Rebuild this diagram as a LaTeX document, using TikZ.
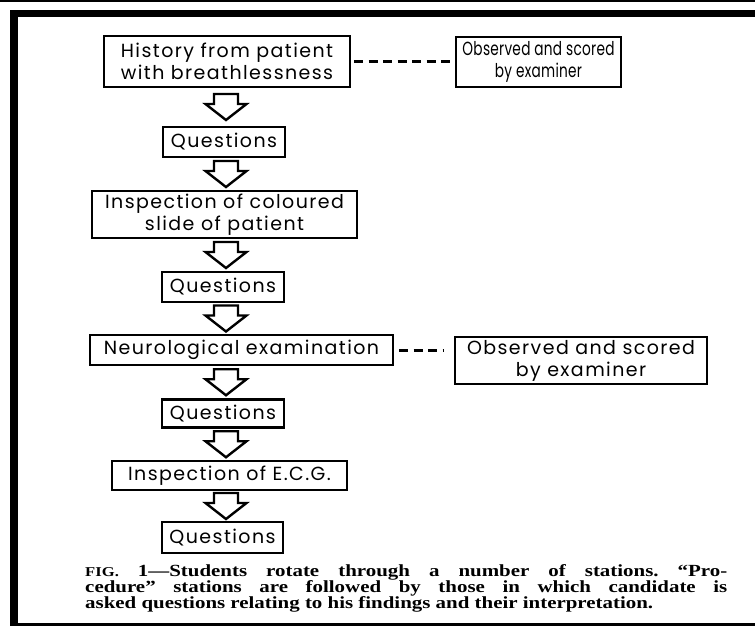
\documentclass[tikz,border=0pt]{standalone}
\usepackage{fontspec}
\usetikzlibrary{calc}
\newfontfamily\BoxFont[LetterSpace=7.5]{Poppins}
\newfontfamily\TightFont[LetterSpace=2]{Poppins}
\newfontfamily\CapFont{Liberation Serif}
\newcommand\DownArrow[2]{%
    \coordinate (ArrMid) at ($(#1.south -| Spine)!0.5!(#2.north -| Spine)$);
    \draw[hollow] ($(ArrMid)+(-12,-13)$) -- ++(24,0) -- ++(0,10) -- ++(8.5,0)
        -- ($(ArrMid)+(0,13)$) -- ($(ArrMid)+(-20.5,-3)$) -- ++(8.5,0) -- cycle;
}

\begin{document}
\begin{tikzpicture}[x=1pt,y=-1pt,
    station/.style={draw,line width=2.4pt,inner sep=0pt,align=center,
        font=\BoxFont\fontsize{19}{22}\selectfont},
    hollow/.style={line width=2.4pt,fill=white,line join=miter},
    scored/.style={line width=3pt,dash pattern=on 9pt off 5.5pt}]
    \useasboundingbox (0,0) rectangle (755,626);
    % frame
    \fill (0,0) rectangle (755,2.5);
    \fill (10,10) rectangle (755,17.5);
    \fill (10,10) rectangle (17.5,626);
    \fill (17,623) rectangle (755,626);
    \coordinate (Spine) at (226,0);
    % stations
    \node[station,minimum width=246,minimum height=51] (History) at (227,61.5) {History from patient\\with breathlessness};
    \node[station,minimum width=122,minimum height=30] (QuestA) at (224,142) {Questions};
    \node[station,minimum width=265,minimum height=47] (Slide) at (224.5,214.5) {Inspection of coloured\\slide of patient};
    \node[station,minimum width=122,minimum height=30] (QuestB) at (223,287) {Questions};
    \node[station,minimum width=303,minimum height=30] (Neuro) at (241.5,350) {Neurological examination};
    \node[station,minimum width=122,minimum height=28] (QuestC) at (223,413.5) {Questions};
    \node[station,minimum width=235,minimum height=29] (Ecg) at (229.5,475.5) {Inspection of E.C.G.};
    \node[station,minimum width=121,minimum height=31] (QuestD) at (222.5,537.5) {Questions};
    % examiner
    \begin{scope}[shift={(538.5,62)},xscale=0.72]
        \node[station,transform shape,minimum width=229,minimum height=50,
            font=\TightFont\fontsize{19}{22}\selectfont] (ObsA) at (0,0) {Observed and scored\\by examiner};
    \end{scope}
    \node[station,minimum width=252,minimum height=47] (ObsB) at (581,360.5) {Observed and scored\\by examiner};
    \draw[scored,shorten <=3pt,shorten >=3pt] (History.east) -- (ObsA.west |- History.east);
    \draw[scored,shorten <=5pt,shorten >=10pt] (Neuro.east) -- (ObsB.west |- Neuro.east);
    % arrows
    \DownArrow{History}{QuestA}
    \DownArrow{QuestA}{Slide}
    \DownArrow{Slide}{QuestB}
    \DownArrow{QuestB}{Neuro}
    \DownArrow{Neuro}{QuestC}
    \DownArrow{QuestC}{Ecg}
    \DownArrow{Ecg}{QuestD}
    % caption
    \begin{scope}[shift={(85,564)},xscale=1.23]
        \node[anchor=north west,transform shape,inner sep=0pt,text width=522pt,align=justify,
            font=\CapFont\bfseries\fontsize{17}{15.7}\selectfont] (Caption) at (0,0)
            {\frenchspacing\parfillskip=0pt {\fontsize{13.5}{15.7}\selectfont FIG.} 1—Students rotate through a number of stations. “Pro-\linebreak
            cedure” stations are followed by those in which candidate is\linebreak
            asked questions relating to his findings and their interpretation.};
    \end{scope}
\end{tikzpicture}
\end{document}
